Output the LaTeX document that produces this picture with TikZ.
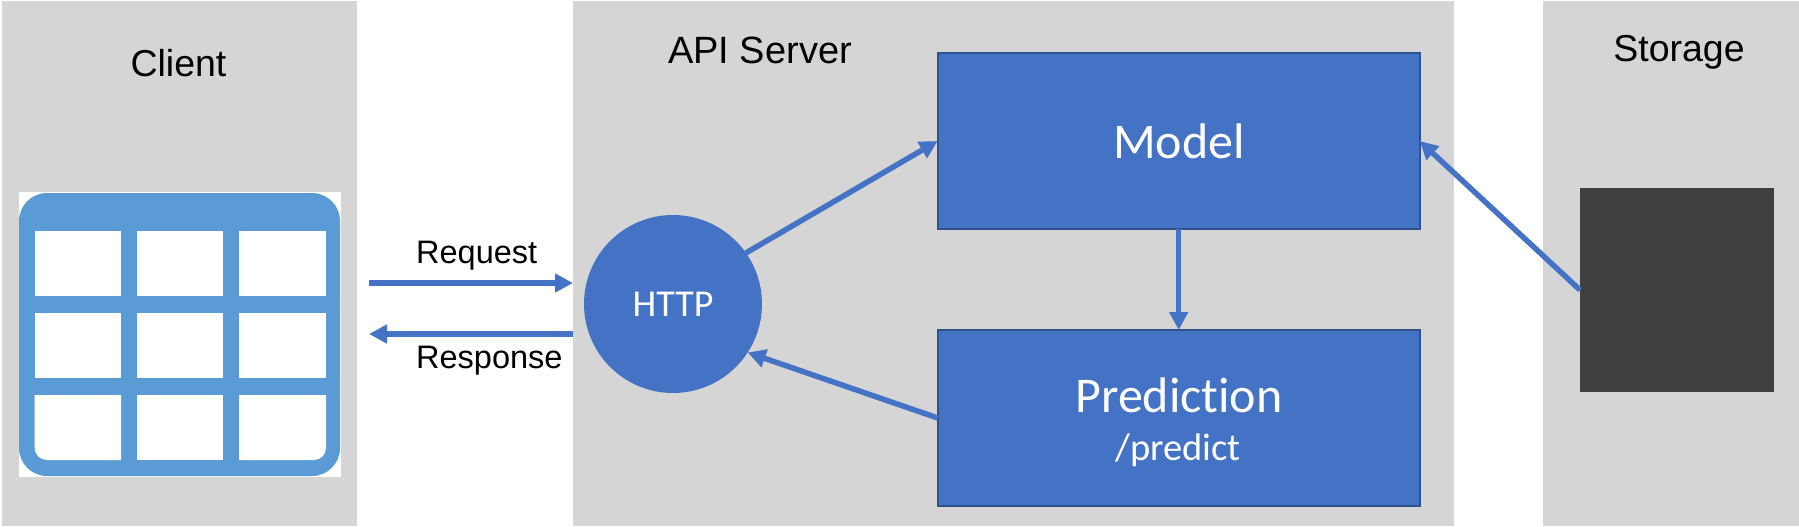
\documentclass[tikz,border=0pt]{standalone}
\usepackage{fontspec}
\setmainfont{Liberation Sans}
\newfontfamily\calfont[Ligatures={NoCommon}]{Carlito}
\usetikzlibrary{arrows.meta,positioning}
\definecolor{panelgrey}{HTML}{D5D5D5}
\definecolor{boxblue}{HTML}{4472C4}
\definecolor{boxedge}{HTML}{2F528F}
\definecolor{iconblue}{HTML}{5B9BD5}
\definecolor{storedark}{HTML}{404040}
\tikzset{
  panel/.style={fill=panelgrey,draw=none,inner sep=0pt,outer sep=0pt,anchor=north west},
  bluebox/.style={fill=boxblue,draw=boxedge,line width=2pt,inner sep=0pt,outer sep=0pt,minimum width=482pt,minimum height=176pt},
  lbl/.style={inner sep=0pt,font=\fontsize{37.5}{45}\selectfont},
  smalllbl/.style={inner sep=0pt,anchor=west,font=\fontsize{32.5}{39}\selectfont},
  whitelbl/.style={inner sep=0pt,text=white,font=\calfont\fontsize{50}{60}\selectfont},
  conn/.style={draw=boxblue,line width=5.5pt,-{Triangle[length=18pt,width=18pt]}},
  cellbox/.style={fill=white,draw=none}
}
\begin{document}
\begin{tikzpicture}[x=1pt,y=-1pt]
\useasboundingbox (0,0) rectangle (1799,527);
\fill[white] (0,0) rectangle (1799,527);
% panels
\node[panel,minimum width=355pt,minimum height=525pt] (client) at (2,0.7) {};
\node[panel,minimum width=881pt,minimum height=525pt] (api) at (573,0.7) {};
\node[panel,minimum width=256pt,minimum height=525pt] (storage) at (1543,0.7) {};
\node[lbl] (clientlbl) at (178.5,63) {Client};
\node[lbl,font=\fontsize{38}{46}\selectfont] (apilbl) at (760,50) {API Server};
\node[lbl] (storagelbl) at (1679,52.5) {Storage};
% table icon
\fill[white] (18.5,192) rectangle (340.5,477);
\fill[iconblue,rounded corners=28pt] (19,193) rectangle (340,476);
\foreach \xa/\xb in {34.7/121,137/223,239/326}{
  \foreach \ya/\yb in {231/296,313/378}{
    \fill[cellbox] (\xa,\ya) rectangle (\xb,\yb);
  }
}
\fill[cellbox] (34.7,395) -- (34.7,448) .. controls (34.7,454.6) and (40,460) .. (47,460) -- (121,460) -- (121,395) -- cycle;
\fill[cellbox] (137,395) rectangle (223,460);
\fill[cellbox] (239,395) -- (239,460) -- (314,460) .. controls (320.6,460) and (326,454.6) .. (326,448) -- (326,395) -- cycle;
% blue boxes
\node[bluebox] (model) at (1178.7,141) {};
\node[whitelbl] (modellbl) at (1179,141) {Model};
\node[bluebox] (prediction) at (1178.7,418) {};
\node[whitelbl] (predlbl) at (1179,395) {Prediction};
\node[whitelbl,font=\calfont\fontsize{38.5}{46}\selectfont] (predictlbl) at (1178,450) {/predict};
% HTTP
\node[circle,fill=boxblue,minimum size=178pt,inner sep=0pt,outer sep=0pt,text=white,font=\calfont\fontsize{38}{46}\selectfont] (http) at (673,304) {HTTP};
% storage block
\node[panel,fill=storedark,minimum width=194pt,minimum height=204pt] (store) at (1580,188) {};
% request and response
\coordinate (reqa) at (369,283);
\coordinate (reqb) at (573,283);
\coordinate (respa) at (573,334);
\coordinate (respb) at (369,334);
\draw[conn] (reqa) -- (reqb);
\draw[conn] (respa) -- (respb);
\node[smalllbl] (reqlbl) at (416,256) {Request};
\node[smalllbl] (resplbl) at (416,361) {Response};
% connectors
\draw[conn] (http.35) -- (model.west);
\draw[conn] (prediction.west) -- (http.-33);
\draw[conn] (model.south) -- (prediction.north);
\draw[conn] (store.west) -- (model.east);
\end{tikzpicture}
\end{document}
